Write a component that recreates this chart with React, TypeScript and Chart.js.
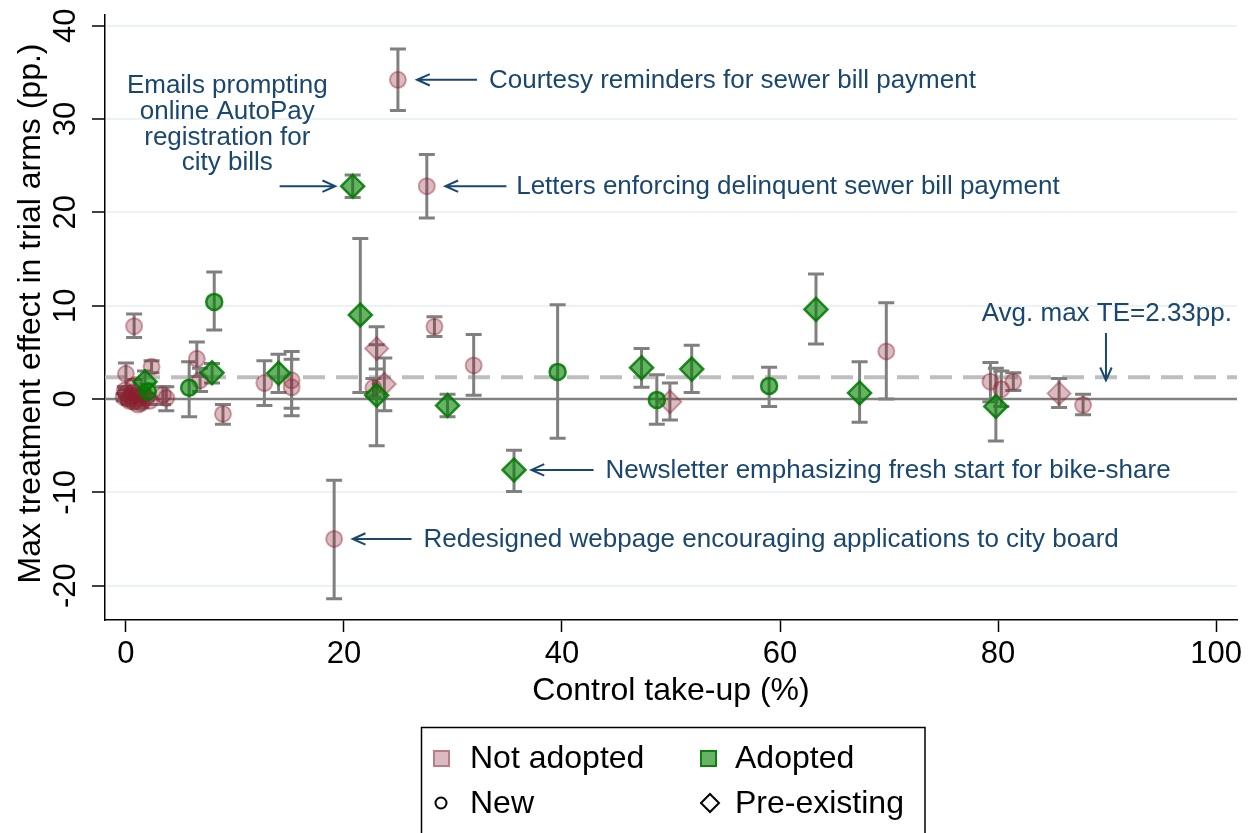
import React, { useEffect, useRef } from 'react';
import { Chart, registerables } from 'chart.js';

Chart.register(...registerables);

const FONT = '"Liberation Sans", Arial, Helvetica, sans-serif';
const NAVY = '#1a476f';

// Axis ticks
const xTicks = [0, 20, 40, 60, 80, 100];
const yTicks = [-20, -10, 0, 10, 20, 30, 40];
const xMin = -1.92;
const xMax = 101.92;
const yMin = -23.68;
const yMax = 41.14;
const avgTE = 2.33;

// Not adopted, new (circles)
const naNewX = [24.95, 27.6, 19.1, 0.75, 28.3, 31.9, 69.75, 8.9, 6.5, 6.8, 12.7, 15.2, 15.2, 22.7, 79.3, 80.3, 81.4, 87.8, 0.0, 2.35, 0.8, 1.4, 3.4, 3.7, -0.2, 0.2, 0.5, 0.7, 1.0, 1.3, 0.3, 1.1, 1.6, 0.6, 0.0, 1.9, 2.2, -0.1];
const naNewY = [34.2, 22.8, -15.0, 7.8, 7.75, 3.6, 5.1, -1.6, 4.3, 2.0, 1.7, 2.0, 1.25, 1.2, 1.85, 1.05, 1.85, -0.65, 2.7, 3.45, 1.5, -0.45, 0.45, 0.1, 0.2, 0.0, 0.3, -0.3, 0.4, 0.1, -0.2, -0.6, 0.5, 0.7, 0.6, 0.2, -0.2, 0.9];
const naNewLo = [30.9, 19.4, -21.4, 6.6, 6.7, 0.4, 0.0, -2.7, 2.4, 0.8, -0.7, -1.0, -1.8, 0.2, -0.3, -0.8, 0.9, -1.7, 1.3, 2.8, 0.9, -0.9, -0.6, -1.25, -0.2, -0.4, -0.1, -0.7, 0.0, -0.3, -0.6, -1.0, 0.1, 0.3, 0.2, -0.2, -0.6, 0.5];
const naNewHi = [37.5, 26.2, -8.7, 9.1, 8.8, 6.9, 10.3, -0.6, 6.1, 3.3, 4.1, 4.25, 5.1, 2.2, 3.9, 3.0, 2.8, 0.5, 3.85, 4.1, 2.1, 0.0, 1.3, 1.3, 0.6, 0.4, 0.7, 0.1, 0.8, 0.5, 0.2, -0.2, 0.9, 1.1, 1.0, 0.6, 0.2, 1.3];

// Not adopted, pre-existing (diamonds)
const naPreX = [23.0, 23.7, 49.9, 85.6];
const naPreY = [5.4, 1.6, -0.3, 0.6];
const naPreLo = [3.2, -1.25, -2.25, -0.9];
const naPreHi = [7.75, 4.4, 1.7, 2.2];

// Adopted, new (circles)
const adNewX = [8.1, 5.8, 39.6, 48.7, 59.0, 2.0];
const adNewY = [10.4, 1.2, 2.9, -0.1, 1.4, 0.8];
const adNewLo = [7.4, -1.9, -4.2, -2.7, -0.8, 0.0];
const adNewHi = [13.6, 4.0, 10.1, 2.6, 3.4, 1.6];

// Adopted, pre-existing (diamonds)
const adPreX = [20.8, 35.6, 21.5, 23.0, 14.0, 7.9, 1.75, 29.5, 47.3, 51.9, 63.3, 67.3, 79.8];
const adPreY = [22.8, -7.6, 9.0, 0.4, 2.75, 2.8, 1.85, -0.7, 3.35, 3.2, 9.6, 0.65, -0.8];
const adPreLo = [21.6, -9.9, 0.7, -5.0, 0.7, 1.7, 0.6, -1.9, 1.25, 0.7, 5.9, -2.5, -4.5];
const adPreHi = [24.0, -5.5, 17.2, 5.8, 4.8, 3.8, 3.0, 0.5, 5.4, 5.75, 13.4, 4.0, 3.3];

// Annotations (data coordinates)
const annTexts = [
  'Courtesy reminders for sewer bill payment',
  'Letters enforcing delinquent sewer bill payment',
  'Newsletter emphasizing fresh start for bike-share',
  'Redesigned webpage encouraging applications to city board',
  'Avg. max TE=2.33pp.',
];
const annTextX = [33.3, 35.8, 44.0, 27.3, 78.5];
const annTextY = [34.2, 22.8, -7.6, -15.0, 9.2];
const annArrowFromX = [32.2, 34.9, 42.9, 26.2, 89.9];
const annArrowFromY = [34.2, 22.8, -7.6, -15.0, 7.07];
const annArrowToX = [26.7, 29.3, 37.2, 20.8, 89.9];
const annArrowToY = [34.2, 22.8, -7.6, -15.0, 2.0];

const emailLines = ['Emails prompting', 'online AutoPay', 'registration for', 'city bills'];
const emailLineX = 9.3;
const emailLineY = [33.6, 30.8, 27.95, 25.25];
const emailArrowFromX = 14.1;
const emailArrowToX = 19.2;
const emailArrowY = 22.8;

const legendLabels = ['Not adopted', 'Adopted', 'New', 'Pre-existing'];

const PINK_FILL = 'rgba(140,30,45,0.3)';
const PINK_BORDER = 'rgba(140,30,45,0.4)';
const GREEN_FILL = 'rgba(0,128,0,0.6)';
const GREEN_BORDER = 'rgba(0,120,0,0.85)';

const toPts = (xs: number[], ys: number[]) => xs.map((x, i) => ({ x, y: ys[i] }));

function drawArrow(ctx: CanvasRenderingContext2D, x1: number, y1: number, x2: number, y2: number) {
  const ang = Math.atan2(y2 - y1, x2 - x1);
  const len = 14;
  const spread = 0.42;
  ctx.beginPath();
  ctx.moveTo(x1, y1);
  ctx.lineTo(x2, y2);
  ctx.moveTo(x2 - len * Math.cos(ang - spread), y2 - len * Math.sin(ang - spread));
  ctx.lineTo(x2, y2);
  ctx.lineTo(x2 - len * Math.cos(ang + spread), y2 - len * Math.sin(ang + spread));
  ctx.stroke();
}

const overlayPlugin = {
  id: 'overlay',
  beforeDatasetsDraw(chart: any) {
    const ctx = chart.ctx as CanvasRenderingContext2D;
    const sx = chart.scales.x;
    const sy = chart.scales.y;
    const { left, right } = chart.chartArea;
    ctx.save();
    ctx.strokeStyle = 'rgb(190,190,190)';
    ctx.lineWidth = 4;
    ctx.setLineDash([22, 11]);
    const ya = sy.getPixelForValue(avgTE);
    ctx.beginPath();
    ctx.moveTo(left, ya);
    ctx.lineTo(right, ya);
    ctx.stroke();
    ctx.setLineDash([]);
    ctx.strokeStyle = 'rgb(128,128,128)';
    ctx.lineWidth = 2.5;
    const y0 = sy.getPixelForValue(0);
    ctx.beginPath();
    ctx.moveTo(left, y0);
    ctx.lineTo(right, y0);
    ctx.stroke();
    ctx.strokeStyle = 'rgb(128,128,128)';
    ctx.lineWidth = 3;
    const groups: [number[], number[], number[]][] = [
      [naNewX, naNewLo, naNewHi],
      [naPreX, naPreLo, naPreHi],
      [adNewX, adNewLo, adNewHi],
      [adPreX, adPreLo, adPreHi],
    ];
    for (const [xs, lo, hi] of groups) {
      for (let i = 0; i < xs.length; i++) {
        const X = sx.getPixelForValue(xs[i]);
        const Y1 = sy.getPixelForValue(lo[i]);
        const Y2 = sy.getPixelForValue(hi[i]);
        ctx.beginPath();
        ctx.moveTo(X, Y1);
        ctx.lineTo(X, Y2);
        ctx.moveTo(X - 8, Y1);
        ctx.lineTo(X + 8, Y1);
        ctx.moveTo(X - 8, Y2);
        ctx.lineTo(X + 8, Y2);
        ctx.stroke();
      }
    }
    ctx.restore();
  },
  afterDraw(chart: any) {
    const ctx = chart.ctx as CanvasRenderingContext2D;
    const sx = chart.scales.x;
    const sy = chart.scales.y;
    const { left, right, top, bottom } = chart.chartArea;
    ctx.save();
    ctx.fillStyle = '#000';
    ctx.font = `31px ${FONT}`;
    ctx.textAlign = 'center';
    ctx.textBaseline = 'alphabetic';
    for (const v of yTicks) {
      const Y = sy.getPixelForValue(v);
      ctx.save();
      ctx.translate(75, Y);
      ctx.rotate(-Math.PI / 2);
      ctx.fillText(String(v), 0, 0);
      ctx.restore();
    }
    ctx.font = `32px ${FONT}`;
    ctx.save();
    ctx.translate(40, (top + bottom) / 2 - 4);
    ctx.rotate(-Math.PI / 2);
    ctx.fillText('Max treatment effect in trial arms (pp.)', 0, 0);
    ctx.restore();
    ctx.fillText('Control take-up (%)', (left + right) / 2, 700);

    ctx.fillStyle = NAVY;
    ctx.strokeStyle = NAVY;
    ctx.lineWidth = 2;
    ctx.font = `26px ${FONT}`;
    ctx.textAlign = 'left';
    ctx.textBaseline = 'middle';
    for (let i = 0; i < annTexts.length; i++) {
      ctx.fillText(annTexts[i], sx.getPixelForValue(annTextX[i]), sy.getPixelForValue(annTextY[i]) + 1);
      drawArrow(
        ctx,
        sx.getPixelForValue(annArrowFromX[i]),
        sy.getPixelForValue(annArrowFromY[i]),
        sx.getPixelForValue(annArrowToX[i]),
        sy.getPixelForValue(annArrowToY[i])
      );
    }
    ctx.textAlign = 'center';
    for (let i = 0; i < emailLines.length; i++) {
      ctx.fillText(emailLines[i], sx.getPixelForValue(emailLineX), sy.getPixelForValue(emailLineY[i]));
    }
    drawArrow(
      ctx,
      sx.getPixelForValue(emailArrowFromX),
      sy.getPixelForValue(emailArrowY),
      sx.getPixelForValue(emailArrowToX),
      sy.getPixelForValue(emailArrowY)
    );

    // legend
    ctx.strokeStyle = '#000';
    ctx.lineWidth = 1.5;
    ctx.strokeRect(421.5, 727.5, 503.5, 120);
    ctx.fillStyle = PINK_FILL;
    ctx.fillRect(433, 750, 17, 17);
    ctx.strokeStyle = PINK_BORDER;
    ctx.lineWidth = 2;
    ctx.strokeRect(434, 751, 15, 15);
    ctx.fillStyle = GREEN_FILL;
    ctx.fillRect(700, 750, 17, 17);
    ctx.strokeStyle = GREEN_BORDER;
    ctx.strokeRect(701, 751, 15, 15);
    ctx.strokeStyle = '#000';
    ctx.lineWidth = 2;
    ctx.beginPath();
    ctx.arc(441, 803, 5.5, 0, Math.PI * 2);
    ctx.stroke();
    ctx.beginPath();
    ctx.moveTo(710, 794);
    ctx.lineTo(719, 803);
    ctx.lineTo(710, 812);
    ctx.lineTo(701, 803);
    ctx.closePath();
    ctx.stroke();
    ctx.fillStyle = '#000';
    ctx.font = `32px ${FONT}`;
    ctx.textAlign = 'left';
    ctx.textBaseline = 'middle';
    ctx.fillText(legendLabels[0], 470, 759);
    ctx.fillText(legendLabels[1], 735, 759);
    ctx.fillText(legendLabels[2], 470, 804);
    ctx.fillText(legendLabels[3], 735, 804);
    ctx.restore();
  },
};

export default function App() {
  const ref = useRef<HTMLCanvasElement>(null);
  useEffect(() => {
    document.body.style.margin = '0';
    document.body.style.overflow = 'hidden';
    const canvas = ref.current!;
    const chart = new Chart(canvas, {
      type: 'scatter',
      data: {
        datasets: [
          {
            label: 'Adopted, pre-existing',
            data: toPts(adPreX, adPreY),
            pointStyle: 'rectRot',
            pointRadius: 11.5,
            backgroundColor: GREEN_FILL,
            borderColor: GREEN_BORDER,
            borderWidth: 2.5,
          },
          {
            label: 'Adopted, new',
            data: toPts(adNewX, adNewY),
            pointStyle: 'circle',
            pointRadius: 8,
            backgroundColor: GREEN_FILL,
            borderColor: GREEN_BORDER,
            borderWidth: 2.5,
          },
          {
            label: 'Not adopted, pre-existing',
            data: toPts(naPreX, naPreY),
            pointStyle: 'rectRot',
            pointRadius: 11.5,
            backgroundColor: PINK_FILL,
            borderColor: PINK_BORDER,
            borderWidth: 2,
          },
          {
            label: 'Not adopted, new',
            data: toPts(naNewX, naNewY),
            pointStyle: 'circle',
            pointRadius: 8,
            backgroundColor: PINK_FILL,
            borderColor: PINK_BORDER,
            borderWidth: 2,
          },
        ],
      },
      options: {
        animation: false,
        responsive: false,
        layout: { padding: { top: 15, right: 10, left: 0, bottom: 0 } },
        plugins: { legend: { display: false }, tooltip: { enabled: false } },
        scales: {
          x: {
            type: 'linear',
            min: xMin,
            max: xMax,
            afterBuildTicks: (s: any) => {
              s.ticks = xTicks.map((v) => ({ value: v }));
            },
            afterFit: (s: any) => {
              s.height = 213;
            },
            ticks: {
              color: '#000',
              font: { family: FONT, size: 31 },
              padding: 4,
              maxRotation: 0,
              autoSkip: false,
            },
            grid: {
              drawOnChartArea: false,
              drawTicks: true,
              tickLength: 12,
              tickColor: '#000',
              tickWidth: 1.5,
            },
            border: { display: true, color: '#000', width: 1.5 },
          },
          y: {
            type: 'linear',
            min: yMin,
            max: yMax,
            afterBuildTicks: (s: any) => {
              s.ticks = yTicks.map((v) => ({ value: v }));
            },
            afterFit: (s: any) => {
              s.width = 105;
            },
            ticks: { display: false },
            grid: {
              color: 'rgb(236,243,244)',
              lineWidth: 2,
              drawTicks: true,
              tickLength: 13,
              tickColor: '#000',
              tickWidth: 1.5,
            },
            border: { display: true, color: '#000', width: 1.5 },
          },
        },
      },
      plugins: [overlayPlugin],
    } as any);
    return () => chart.destroy();
  }, []);
  return (
    <div style={{ width: 1251, height: 833, background: '#fff' }}>
      <canvas ref={ref} width={1251} height={833} style={{ display: 'block', width: 1251, height: 833 }} />
    </div>
  );
}
